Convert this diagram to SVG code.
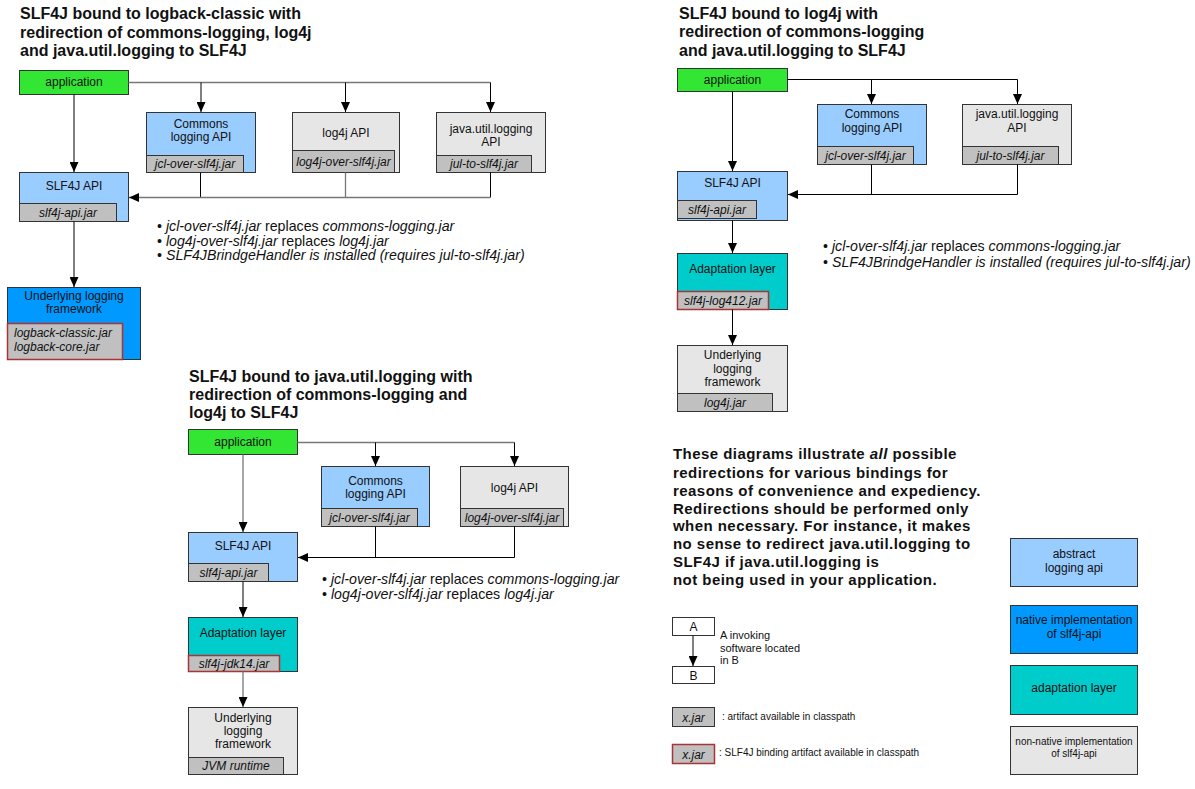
<svg xmlns="http://www.w3.org/2000/svg" width="1195" height="789" viewBox="0 0 1195 789">
<defs>
<style>
text{font-family:"Liberation Sans",Arial,sans-serif;fill:#111}
.title{font-size:16px;font-weight:bold}
.lbl{font-size:12px;text-anchor:middle}
.jar{font-size:12px;font-style:italic;text-anchor:middle}
.jarl{font-size:12px;font-style:italic}
.note{font-size:14.2px}
.note tspan.i{font-style:italic}
.para{font-size:15px;font-weight:bold;letter-spacing:0.45px}
.small{font-size:11px}
.tiny{font-size:10px}
.box{stroke:#333;stroke-width:1}
.app{fill:#33e633}
.api{fill:#99ccff}
.nat{fill:#0099ff}
.ada{fill:#00cccc}
.non{fill:#e6e6e6}
.wht{fill:#fff}
.jr{fill:#c0c0c0;stroke:#333;stroke-width:1}
.jb{fill:#c0c0c0;stroke:#a33;stroke-width:1.5}
.c{stroke:#000;stroke-width:1;fill:none}
.cg{stroke:#777;stroke-width:1.3;fill:none}
</style>
<marker id="ah" markerUnits="userSpaceOnUse" markerWidth="10" markerHeight="9" refX="10" refY="4.5" orient="auto">
<path d="M0,0 L10,4.5 L0,9 z" fill="#000"/>
</marker>
</defs>
<rect width="1195" height="789" fill="#fff"/>

<!-- ===== Top-left diagram ===== -->
<g id="tl-title">
<text class="title" x="20" y="19">SLF4J bound to logback-classic with</text>
<text class="title" x="20" y="37.5">redirection of commons-logging, log4j</text>
<text class="title" x="20" y="56">and java.util.logging to SLF4J</text>
</g>
<g id="tl-app">
<rect class="box app" x="19.5" y="70.5" width="109" height="24"/>
<text class="lbl" x="74" y="86">application</text>
</g>
<g id="tl-commons">
<rect class="box api" x="146.5" y="112.5" width="109" height="60"/>
<text class="lbl" x="201" y="128">Commons</text>
<text class="lbl" x="201" y="141">logging API</text>
<rect class="jr" x="146.5" y="155.5" width="97" height="17"/>
<text class="jar" x="195" y="168">jcl-over-slf4j.jar</text>
</g>
<g id="tl-log4j">
<rect class="box non" x="292.5" y="112.5" width="107" height="60"/>
<text class="lbl" x="346" y="137">log4j API</text>
<rect class="jr" x="292.5" y="150.5" width="102" height="22"/>
<text class="jar" x="343.5" y="166">log4j-over-slf4j.jar</text>
</g>
<g id="tl-jul">
<rect class="box non" x="436.5" y="112.5" width="109" height="60"/>
<text class="lbl" x="491" y="133">java.util.logging</text>
<text class="lbl" x="491" y="146">API</text>
<rect class="jr" x="436.5" y="155.5" width="95" height="17"/>
<text class="jar" x="484" y="168">jul-to-slf4j.jar</text>
</g>
<g id="tl-slf4j">
<rect class="box api" x="19.5" y="172.5" width="109" height="49"/>
<text class="lbl" x="74" y="190">SLF4J API</text>
<rect class="jr" x="19.5" y="203.5" width="97" height="18"/>
<text class="jar" x="68" y="216.5">slf4j-api.jar</text>
</g>
<g id="tl-underlying">
<rect class="box nat" x="7.5" y="287.5" width="133" height="72"/>
<text class="lbl" x="74" y="300">Underlying logging</text>
<text class="lbl" x="74" y="313">framework</text>
<rect class="jb" x="7.5" y="323.5" width="115" height="36"/>
<text class="jarl" x="14" y="337">logback-classic.jar</text>
<text class="jarl" x="14" y="351">logback-core.jar</text>
</g>
<g id="tl-notes">
<text class="note" x="157" y="231">• <tspan class="i">jcl-over-slf4j.jar</tspan> replaces <tspan class="i">commons-logging.jar</tspan></text>
<text class="note" x="157" y="245.5">• <tspan class="i">log4j-over-slf4j.jar</tspan> replaces <tspan class="i">log4j.jar</tspan></text>
<text class="note" x="157" y="260"><tspan>• </tspan><tspan class="i">SLF4JBrindgeHandler is installed (requires jul-to-slf4j.jar)</tspan></text>
</g>

<!-- ===== Top-right diagram ===== -->
<g id="tr-title">
<text class="title" x="679" y="18.5">SLF4J bound to log4j with</text>
<text class="title" x="679" y="37">redirection of commons-logging</text>
<text class="title" x="679" y="55.5">and java.util.logging to SLF4J</text>
</g>
<g id="tr-app">
<rect class="box app" x="677.5" y="68.5" width="110" height="23"/>
<text class="lbl" x="732.5" y="84">application</text>
</g>
<g id="tr-commons">
<rect class="box api" x="817.5" y="104.5" width="109" height="60"/>
<text class="lbl" x="872" y="118">Commons</text>
<text class="lbl" x="872" y="132">logging API</text>
<rect class="jr" x="817.5" y="146.5" width="96" height="18"/>
<text class="jar" x="865.5" y="159.5">jcl-over-slf4j.jar</text>
</g>
<g id="tr-jul">
<rect class="box non" x="962.5" y="104.5" width="109" height="60"/>
<text class="lbl" x="1017" y="118">java.util.logging</text>
<text class="lbl" x="1017" y="132">API</text>
<rect class="jr" x="962.5" y="146.5" width="96" height="18"/>
<text class="jar" x="1010.5" y="159.5">jul-to-slf4j.jar</text>
</g>
<g id="tr-slf4j">
<rect class="box api" x="677.5" y="171.5" width="110" height="49"/>
<text class="lbl" x="732.5" y="187">SLF4J API</text>
<rect class="jr" x="677.5" y="200.5" width="79" height="18"/>
<text class="jar" x="717" y="213.5">slf4j-api.jar</text>
</g>
<g id="tr-adapt">
<rect class="box ada" x="677.5" y="253.5" width="110" height="56"/>
<text class="lbl" x="732.5" y="273">Adaptation layer</text>
<rect class="jb" x="677.5" y="291.5" width="91" height="18"/>
<text class="jar" x="723" y="304.5">slf4j-log412.jar</text>
</g>
<g id="tr-underlying">
<rect class="box non" x="677.5" y="345.5" width="110" height="66"/>
<text class="lbl" x="732.5" y="359">Underlying</text>
<text class="lbl" x="732.5" y="372.5">logging</text>
<text class="lbl" x="732.5" y="386">framework</text>
<rect class="jr" x="677.5" y="393.5" width="95" height="18"/>
<text class="jar" x="725" y="406.5">log4j.jar</text>
</g>
<g id="tr-notes">
<text class="note" x="823" y="251">• <tspan class="i">jcl-over-slf4j.jar</tspan> replaces <tspan class="i">commons-logging.jar</tspan></text>
<text class="note" x="823" y="267"><tspan>• </tspan><tspan class="i">SLF4JBrindgeHandler is installed (requires jul-to-slf4j.jar)</tspan></text>
</g>

<!-- ===== Bottom diagram ===== -->
<g id="b-title">
<text class="title" x="189" y="382">SLF4J bound to java.util.logging with</text>
<text class="title" x="189" y="400">redirection of commons-logging and</text>
<text class="title" x="189" y="418">log4j to SLF4J</text>
</g>
<g id="b-app">
<rect class="box app" x="188.5" y="429.5" width="109" height="25"/>
<text class="lbl" x="243" y="446">application</text>
</g>
<g id="b-commons">
<rect class="box api" x="321.5" y="466.5" width="108" height="60"/>
<text class="lbl" x="375.5" y="485">Commons</text>
<text class="lbl" x="375.5" y="498">logging API</text>
<rect class="jr" x="321.5" y="508.5" width="96" height="18"/>
<text class="jar" x="369.5" y="521.5">jcl-over-slf4j.jar</text>
</g>
<g id="b-log4j">
<rect class="box non" x="460.5" y="466.5" width="108" height="60"/>
<text class="lbl" x="514.5" y="492">log4j API</text>
<rect class="jr" x="460.5" y="508.5" width="103" height="18"/>
<text class="jar" x="512" y="521.5">log4j-over-slf4j.jar</text>
</g>
<g id="b-slf4j">
<rect class="box api" x="188.5" y="532.5" width="109" height="49"/>
<text class="lbl" x="243" y="550">SLF4J API</text>
<rect class="jr" x="188.5" y="563.5" width="80" height="18"/>
<text class="jar" x="228.5" y="576.5">slf4j-api.jar</text>
</g>
<g id="b-adapt">
<rect class="box ada" x="188.5" y="617.5" width="109" height="54"/>
<text class="lbl" x="243" y="637">Adaptation layer</text>
<rect class="jb" x="188.5" y="655.5" width="91" height="16"/>
<text class="jar" x="234" y="667.5">slf4j-jdk14.jar</text>
</g>
<g id="b-underlying">
<rect class="box non" x="188.5" y="707.5" width="109" height="67"/>
<text class="lbl" x="243" y="722">Underlying</text>
<text class="lbl" x="243" y="735">logging</text>
<text class="lbl" x="243" y="748">framework</text>
<rect class="jr" x="188.5" y="757.5" width="95" height="17"/>
<text class="jar" x="236" y="770">JVM runtime</text>
</g>
<g id="b-notes">
<text class="note" x="322" y="584">• <tspan class="i">jcl-over-slf4j.jar</tspan> replaces <tspan class="i">commons-logging.jar</tspan></text>
<text class="note" x="322" y="599">• <tspan class="i">log4j-over-slf4j.jar</tspan> replaces <tspan class="i">log4j.jar</tspan></text>
</g>

<!-- ===== Legend ===== -->
<g id="legend-text">
<text class="para" x="673" y="459">These diagrams illustrate <tspan font-style="italic">all</tspan> possible</text>
<text class="para" x="673" y="477.5">redirections for various bindings for</text>
<text class="para" x="673" y="495.5">reasons of convenience and expediency.</text>
<text class="para" x="673" y="513.5">Redirections should be performed only</text>
<text class="para" x="673" y="531">when necessary. For instance, it makes</text>
<text class="para" x="673" y="549">no sense to redirect java.util.logging to</text>
<text class="para" x="673" y="567">SLF4J if java.util.logging is</text>
<text class="para" x="673" y="585">not being used in your application.</text>
</g>
<g id="legend-a">
<rect class="box wht" x="672.5" y="617.5" width="42" height="18"/>
<text class="lbl" x="693.5" y="631">A</text>
</g>
<g id="legend-b">
<rect class="box wht" x="672.5" y="666.5" width="42" height="17"/>
<text class="lbl" x="693.5" y="680">B</text>
</g>
<g id="legend-ab-text">
<text class="small" x="720" y="639">A invoking</text>
<text class="small" x="720" y="652">software located</text>
<text class="small" x="720" y="664">in B</text>
</g>
<g id="legend-jar">
<rect class="jr" x="672.5" y="707.5" width="42" height="19"/>
<text class="jar" x="693.5" y="721.5">x.jar</text>
<text class="tiny" x="722" y="719.5">: artifact available in classpath</text>
</g>
<g id="legend-binding">
<rect class="jb" x="672.5" y="744.5" width="42" height="19"/>
<text class="jar" x="693.5" y="758.5">x.jar</text>
<text class="tiny" x="719" y="756">: SLF4J binding artifact available in classpath</text>
</g>
<g id="legend-abstract">
<rect class="box api" x="1010.5" y="538.5" width="127" height="48"/>
<text class="lbl" x="1074" y="558">abstract</text>
<text class="lbl" x="1074" y="572">logging api</text>
</g>
<g id="legend-native">
<rect class="box nat" x="1010.5" y="605.5" width="127" height="48"/>
<text class="lbl" x="1074" y="624">native implementation</text>
<text class="lbl" x="1074" y="638">of slf4j-api</text>
</g>
<g id="legend-adapt">
<rect class="box ada" x="1010.5" y="665.5" width="127" height="49"/>
<text class="lbl" x="1074" y="692">adaptation layer</text>
</g>
<g id="legend-nonnative">
<rect class="box non" x="1010.5" y="726.5" width="127" height="48"/>
<text class="tiny" text-anchor="middle" x="1074" y="745">non-native implementation</text>
<text class="tiny" text-anchor="middle" x="1074" y="757">of slf4j-api</text>
</g>

<!-- ===== Connectors ===== -->
<g id="connectors">
<!-- top-left -->
<path class="cg" d="M128.5,82.5 H490.5"/>
<path class="c" d="M201,82.5 V112" marker-end="url(#ah)"/>
<path class="c" d="M345.5,82.5 V112" marker-end="url(#ah)"/>
<path class="c" d="M490.5,82.5 V112" marker-end="url(#ah)"/>
<path class="c" d="M74,94.5 V172" marker-end="url(#ah)"/>
<path class="c" d="M200.5,172.5 V197.5"/>
<path class="cg" d="M345.5,172.5 V197.5"/>
<path class="c" d="M490.5,172.5 V197.5"/>
<path class="cg" d="M490.5,197.5 H129" marker-end="url(#ah)"/>
<path class="c" d="M74,221.5 V287" marker-end="url(#ah)"/>
<!-- top-right -->
<path class="c" d="M787.5,79.5 H1017.5"/>
<path class="c" d="M871.5,79.5 V104" marker-end="url(#ah)"/>
<path class="c" d="M1017.5,79.5 V104" marker-end="url(#ah)"/>
<path class="c" d="M732.5,91.5 V171" marker-end="url(#ah)"/>
<path class="c" d="M871.5,164.5 V194.5"/>
<path class="c" d="M1017.5,164.5 V194.5 H788" marker-end="url(#ah)"/>
<path class="c" d="M732.5,220.5 V253" marker-end="url(#ah)"/>
<path class="c" d="M732.5,309.5 V345" marker-end="url(#ah)"/>
<!-- bottom -->
<path class="cg" d="M297.5,442.5 H514.5"/>
<path class="c" d="M375.5,442.5 V466" marker-end="url(#ah)"/>
<path class="c" d="M514.5,442.5 V466" marker-end="url(#ah)"/>
<path class="cg" d="M243,454.5 V532" marker-end="url(#ah)"/>
<path class="c" d="M375.5,526.5 V557.5"/>
<path class="c" d="M514.5,526.5 V557.5 H298" marker-end="url(#ah)"/>
<path class="c" d="M243,581.5 V617" marker-end="url(#ah)"/>
<path class="cg" d="M243,671.5 V707" marker-end="url(#ah)"/>
<!-- legend -->
<path class="c" d="M693,635.5 V666" marker-end="url(#ah)"/>
</g>
</svg>
